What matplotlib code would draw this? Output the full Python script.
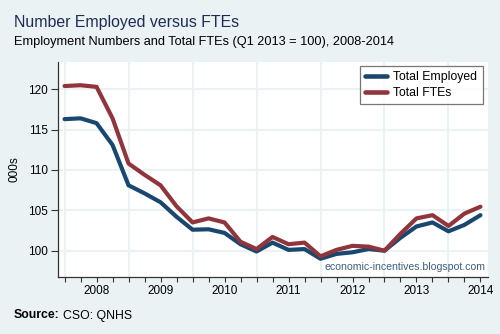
import matplotlib
matplotlib.use("Agg")
import matplotlib.pyplot as plt
from matplotlib.lines import Line2D

plt.rcParams['font.family'] = ['Liberation Sans', 'DejaVu Sans']

quarters = [f"{y}Q{q}" for y in range(2008, 2015) for q in range(1, 5)][:27]
employed = [116.3, 116.4, 115.8, 113.1, 108.1, 107.1, 106.0, 104.2,
            102.6, 102.65, 102.2, 100.8, 99.9, 101.0, 100.1, 100.2,
            99.0, 99.6, 99.8, 100.2, 100.0, 101.6, 103.0, 103.5,
            102.4, 103.2, 104.4]
ftes = [120.4, 120.5, 120.3, 116.4, 110.8, 109.4, 108.1, 105.5,
        103.5, 104.0, 103.5, 101.1, 100.2, 101.7, 100.8, 101.0,
        99.3, 100.1, 100.6, 100.5, 100.0, 102.1, 104.0, 104.4,
        103.06, 104.6, 105.45]
year_labels = ["2008", "2009", "2010", "2011", "2012", "2013", "2014"]
yticks = [100, 105, 110, 115, 120]

bg = '#EAF2F3'
blue = '#1A476F'
red = '#90353B'

fig = plt.figure(figsize=(5, 3.34), dpi=100, facecolor=bg)
ax = fig.add_axes([0.116, 0.1707, 0.86, 0.6437])
ax.set_facecolor('white')

x = list(range(len(quarters)))
# grid
for yv in yticks:
    ax.axhline(yv, color=bg, lw=1.5, zorder=0)
for i, q in enumerate(quarters):
    if q.endswith('Q1'):
        ax.axvline(i, color=bg, lw=1.5, zorder=0)

ax.plot(x, employed, color=blue, lw=3.0, solid_capstyle='round', solid_joinstyle='round', zorder=3)
ax.plot(x, ftes, color=red, lw=3.0, solid_capstyle='round', solid_joinstyle='round', zorder=3)

ax.set_xlim(-0.41, 26.47)
ax.set_ylim(96.74, 123.38)

ax.set_yticks(yticks)
ax.set_yticklabels([str(v) for v in yticks])
xl = []
for q in quarters:
    xl.append(q[:4] if q.endswith('Q3') else '')
ax.set_xticks(x)
ax.set_xticklabels(xl)
ax.tick_params(axis='y', length=5, width=0.8, pad=2.5, labelsize=8.5, colors='#333333', labelcolor='black')
ax.tick_params(axis='x', length=3.5, width=0.8, pad=2.5, labelsize=8.5, colors='#333333', labelcolor='black')

for s in ['top', 'right']:
    ax.spines[s].set_visible(False)
for s in ['left', 'bottom']:
    ax.spines[s].set_color('#333333')
    ax.spines[s].set_linewidth(0.9)

ax.set_ylabel('000s', fontsize=8.5, labelpad=5)

handles = [Line2D([], [], color=blue, lw=3.3, solid_capstyle='round'),
           Line2D([], [], color=red, lw=3.3, solid_capstyle='round')]
leg = ax.legend(handles, ['Total Employed', 'Total FTEs'], loc='upper right',
                bbox_to_anchor=(0.988, 0.983), fontsize=8.8, frameon=True,
                fancybox=False, edgecolor='#555555', handlelength=1.75,
                handletextpad=0.55, borderpad=0.45, labelspacing=0.3, borderaxespad=0)
leg.get_frame().set_linewidth(0.9)

ax.text(0.995, 0.022, 'economic-incentives.blogspot.com', transform=ax.transAxes,
        ha='right', va='bottom', fontsize=7.6, color='#3E5E82')

fig.text(14/500, 1 - 27.5/334, 'Number Employed versus FTEs', fontsize=11.4,
         color='#1E2C55', ha='left', va='baseline')
fig.text(14/500, 1 - 45/334, 'Employment Numbers and Total FTEs (Q1 2013 = 100), 2008-2014',
         fontsize=9.2, color='black', ha='left', va='baseline')
t = fig.text(14/500, 1 - 318.5/334, 'Source:', fontsize=8.8, fontweight='bold',
             ha='left', va='baseline')
fig.canvas.draw()
bb = t.get_window_extent()
fig.text((bb.x1 + 3) / 500, 1 - 318.5/334, 'CSO: QNHS', fontsize=8.8, ha='left', va='baseline')

fig.savefig('out.png', dpi=100, facecolor=bg)
